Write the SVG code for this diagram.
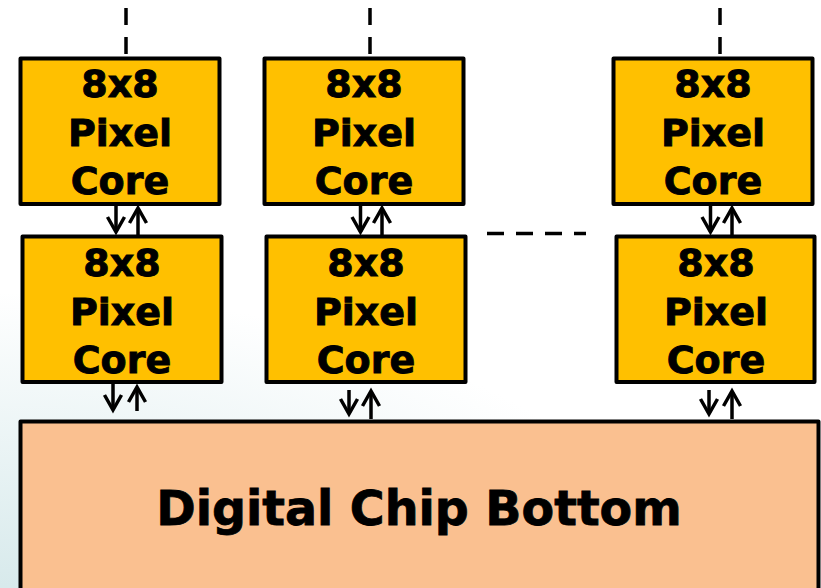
<svg xmlns="http://www.w3.org/2000/svg" width="821" height="588" viewBox="0 0 821 588">
<defs>
<radialGradient id="bg" gradientUnits="userSpaceOnUse" cx="0" cy="600" r="560" gradientTransform="translate(0,600) scale(1.2,0.55) translate(0,-600)">
<stop offset="0" stop-color="#d6e9eb"/>
<stop offset="1" stop-color="#ffffff"/>
</radialGradient>
<marker id="ah" markerUnits="userSpaceOnUse" markerWidth="30" markerHeight="30" refX="0" refY="0" orient="auto" overflow="visible">
<path d="M-15,-8.5 L0,0 L-15,8.5" fill="none" stroke="#000" stroke-width="3.5" stroke-linejoin="miter"/>
</marker>
<style>
.core rect{fill:#FFC000;stroke:#000;stroke-width:4;stroke-linejoin:round}
.core text{font-family:"DejaVu Sans","Verdana",sans-serif;font-weight:bold;font-size:38px;text-anchor:middle;fill:#000;stroke:#000;stroke-width:0.9}
.chip rect{fill:#FAC090;stroke:#000;stroke-width:4;stroke-linejoin:round}
.chip text{font-family:"DejaVu Sans","Verdana",sans-serif;font-weight:bold;font-size:47.5px;text-anchor:middle;fill:#000;stroke:#000;stroke-width:0.8}
.arr{stroke:#000;stroke-width:3.5;fill:none;marker-end:url(#ah)}
.dash{stroke:#000;stroke-width:3.5;fill:none;stroke-dasharray:17 12}
</style>
</defs>
<rect x="0" y="0" width="821" height="588" fill="url(#bg)"/>

<g id="core-top-1" class="core">
<rect x="20.5" y="58.5" width="199" height="145.5"/>
<text x="120" y="97">8x8</text><text x="120" y="146">Pixel</text><text x="120" y="194">Core</text>
</g>
<g id="core-top-2" class="core">
<rect x="264.5" y="58.5" width="199" height="145.5"/>
<text x="364" y="97">8x8</text><text x="364" y="146">Pixel</text><text x="364" y="194">Core</text>
</g>
<g id="core-top-3" class="core">
<rect x="613.5" y="58.5" width="199" height="145.5"/>
<text x="713" y="97">8x8</text><text x="713" y="146">Pixel</text><text x="713" y="194">Core</text>
</g>
<g id="core-bot-1" class="core">
<rect x="22.5" y="236.5" width="199" height="145.5"/>
<text x="122" y="276">8x8</text><text x="122" y="325">Pixel</text><text x="122" y="373">Core</text>
</g>
<g id="core-bot-2" class="core">
<rect x="266.5" y="236.5" width="199" height="145.5"/>
<text x="366" y="276">8x8</text><text x="366" y="325">Pixel</text><text x="366" y="373">Core</text>
</g>
<g id="core-bot-3" class="core">
<rect x="616.5" y="236.5" width="198" height="145.5"/>
<text x="716" y="276">8x8</text><text x="716" y="325">Pixel</text><text x="716" y="373">Core</text>
</g>
<g id="chip" class="chip">
<rect x="20.5" y="421.5" width="798" height="175"/>
<text x="419" y="525">Digital Chip Bottom</text>
</g>

<g id="connectors">
<line class="dash" x1="126" y1="8" x2="126" y2="57"/>
<line class="dash" x1="370" y1="8" x2="370" y2="57"/>
<line class="dash" x1="720" y1="8" x2="720" y2="57"/>
<line class="dash" x1="487" y1="233.5" x2="586" y2="233.5"/>

<line class="arr" x1="116" y1="206" x2="116" y2="232"/>
<line class="arr" x1="138" y1="235" x2="138" y2="208"/>
<line class="arr" x1="360.5" y1="206" x2="360.5" y2="232"/>
<line class="arr" x1="382" y1="235" x2="382" y2="208"/>
<line class="arr" x1="710.5" y1="206" x2="710.5" y2="232"/>
<line class="arr" x1="732" y1="235" x2="732" y2="208"/>

<line class="arr" x1="113" y1="384" x2="113" y2="410"/>
<line class="arr" x1="137" y1="411" x2="137" y2="387"/>
<line class="arr" x1="349" y1="390" x2="349" y2="414"/>
<line class="arr" x1="371" y1="419" x2="371" y2="391"/>
<line class="arr" x1="709" y1="390" x2="709" y2="414"/>
<line class="arr" x1="732" y1="419" x2="732" y2="391"/>
</g>
</svg>
